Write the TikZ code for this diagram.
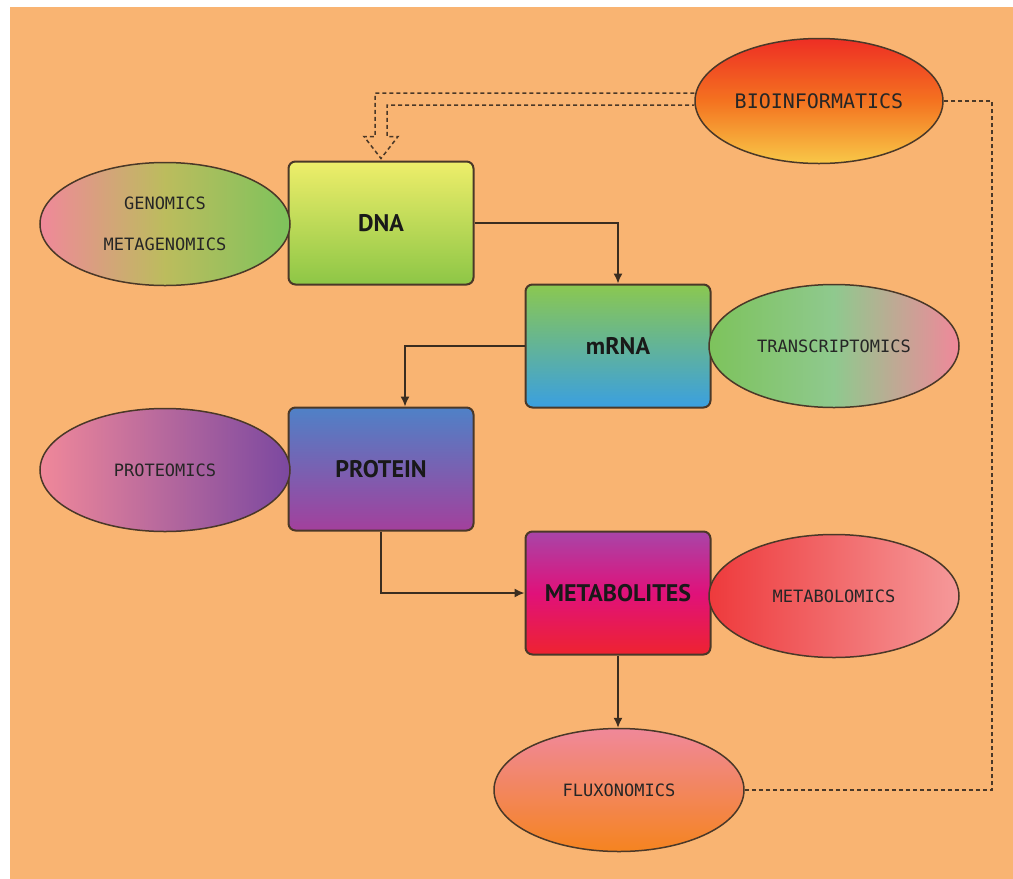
\documentclass[tikz,border=0pt]{standalone}
\usepackage{fontspec}
\usepackage{tikz}
\usetikzlibrary{shapes,arrows.meta,positioning}
\newfontfamily\boxfont{PT Sans}
\newfontfamily\ovalfont{DejaVu Sans Mono}
\definecolor{paper}{HTML}{F9B472}
\definecolor{ink}{HTML}{4A3828}
\definecolor{dnatop}{HTML}{EEEE6A}
\definecolor{dnabot}{HTML}{8DC646}
\definecolor{rnatop}{HTML}{8BC850}
\definecolor{rnabot}{HTML}{3A9FE0}
\definecolor{prottop}{HTML}{4F81C7}
\definecolor{protbot}{HTML}{A3409C}
\definecolor{mettop}{HTML}{A845A8}
\definecolor{metmid}{HTML}{E0117A}
\definecolor{metbot}{HTML}{EE2330}
\definecolor{pinkish}{HTML}{F0889A}
\definecolor{leaf}{HTML}{7DC35C}
\definecolor{mint}{HTML}{8FC98E}
\definecolor{plum}{HTML}{7B48A0}
\definecolor{hotred}{HTML}{EE3A3C}
\definecolor{rose}{HTML}{F5999A}
\definecolor{tang}{HTML}{F5841F}
\definecolor{fire}{HTML}{EE2E24}
\definecolor{sun}{HTML}{F8C848}
\tikzset{
  stage/.style={draw=ink, line width=2pt, rounded corners=7pt,
    minimum width=185pt, minimum height=123pt, inner sep=0pt,
    font=\boxfont\bfseries\fontsize{24}{28}\selectfont, text=black!90},
  omics/.style={ellipse, draw=ink, line width=1.5pt,
    minimum width=250pt, minimum height=123pt, inner sep=0pt,
    font=\ovalfont\fontsize{17}{20}\selectfont, text=black!85, align=center},
  flow/.style={draw=ink!80!black, line width=1.5pt, -{Latex[length=10pt,width=9pt]}},
  dotted link/.style={draw=ink, line width=1.5pt, dash pattern=on 4pt off 3pt}
}
\begin{document}
\begin{tikzpicture}[x=1pt,y=-1pt]
\useasboundingbox (0,0) rectangle (1013,879);
\fill[white] (0,0) rectangle (1013,879);
\fill[paper] (10,7) rectangle (1013,879);

% the stages
\node[stage, top color=dnatop, bottom color=dnabot] (dna) at (381,223) {DNA};
\node[stage, top color=rnatop, bottom color=rnabot] (mrna) at (618,346) {mRNA};
\node[stage, top color=prottop, bottom color=protbot] (protein) at (381,469) {PROTEIN};
\node[stage, top color=mettop, bottom color=metbot, middle color=metmid] (metab) at (618,593) {METABOLITES};

% the omics
\node[omics, left color=pinkish, right color=leaf, middle color=leaf!60!pinkish!80!yellow] (genom) at (165,224) {GENOMICS\\[21pt]METAGENOMICS};
\node[omics, left color=leaf, right color=pinkish, middle color=mint] (trans) at (834,346) {TRANSCRIPTOMICS};
\node[omics, left color=pinkish, right color=plum, middle color=pinkish!50!plum] (proteo) at (165,470) {PROTEOMICS};
\node[omics, left color=hotred, right color=rose] (metabolo) at (834,596) {METABOLOMICS};
\node[omics, top color=pinkish, bottom color=tang] (flux) at (619,790) {FLUXONOMICS};
\node[omics, minimum width=248pt, minimum height=125pt, top color=fire, bottom color=sun, middle color=tang!80!fire,
  font=\ovalfont\fontsize{20}{24}\selectfont] (bio) at (819,101) {BIOINFORMATICS};

% arrows
\draw[flow] (dna.east) -| (mrna.north);
\draw[flow] (mrna.west) -| ([xshift=24pt]protein.north);
\draw[flow] (protein.south) |- (metab.west);
\draw[flow] (metab.south) -- (metab.south |- flux.north);

% bioinformatics links
\coordinate (ret) at (992,101);
\draw[dotted link] (flux.east) -| (ret) -- (bio.east);
\draw[dotted link] ([yshift=8pt]bio.west) -| ([xshift=-6pt,yshift=24pt]dna.north)
  -- ([xshift=-17pt,yshift=24pt]dna.north) -- ([yshift=2pt]dna.north)
  -- ([xshift=17pt,yshift=24pt]dna.north) -- ([xshift=6pt,yshift=24pt]dna.north)
  |- ([yshift=-4pt]bio.west);

\end{tikzpicture}
\end{document}
